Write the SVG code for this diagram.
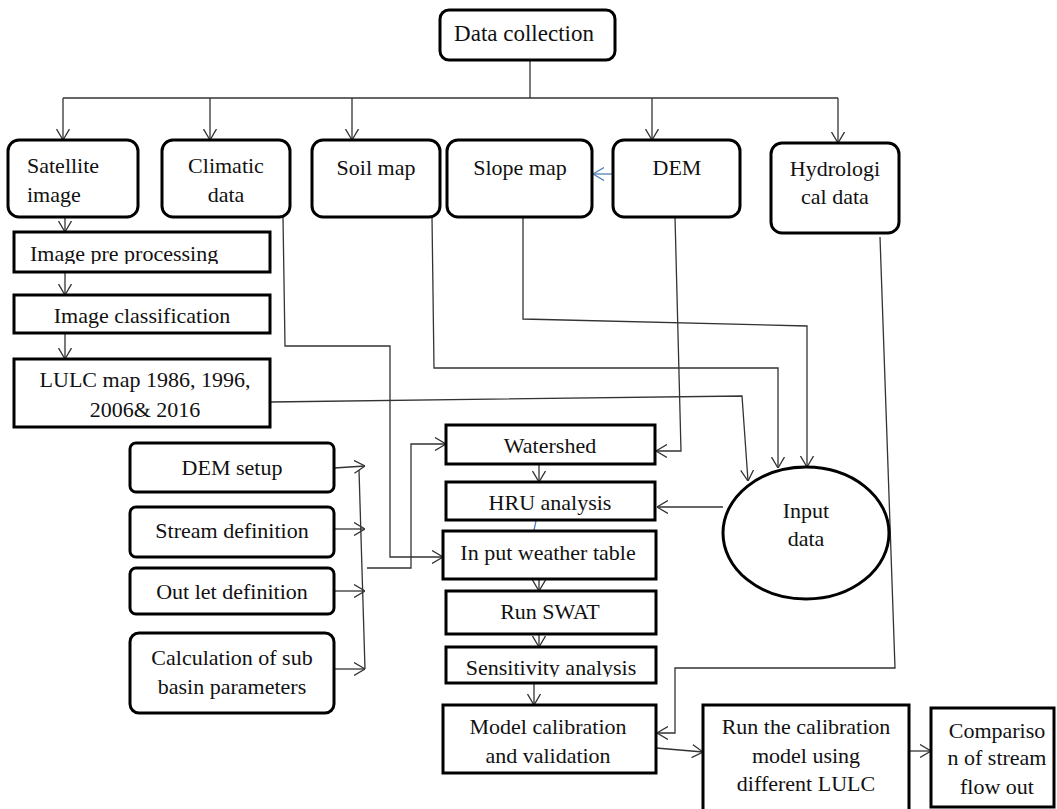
<svg xmlns="http://www.w3.org/2000/svg" width="1057" height="809" viewBox="0 0 1057 809">
<style>
.bx{fill:#fff;stroke:#000;stroke-width:3}
.t{font-family:'Liberation Serif','DejaVu Serif',serif;font-size:22px;fill:#111}
.m{text-anchor:middle}
.c{fill:none;stroke:#333;stroke-width:1.3}
.cb{fill:none;stroke:#4f81bd;stroke-width:1.3}
</style>
<defs>
<marker id="a" viewBox="0 0 11 14" refX="11" refY="7" markerWidth="11" markerHeight="14" markerUnits="userSpaceOnUse" orient="auto">
<path d="M0,0.5 L11,7 L0,13.5" fill="none" stroke="#333" stroke-width="1.3"/>
</marker>
<marker id="ab" viewBox="0 0 11 14" refX="11" refY="7" markerWidth="11" markerHeight="14" markerUnits="userSpaceOnUse" orient="auto">
<path d="M0,0.5 L11,7 L0,13.5" fill="none" stroke="#4f81bd" stroke-width="1.3"/>
</marker>
<clipPath id="clipPre"><rect x="14" y="232" width="256" height="32"/></clipPath>
<clipPath id="clipSens"><rect x="446" y="647" width="210" height="30"/></clipPath>
</defs>

<g id="connectors">
<path class="c" d="M530,60 V98"/>
<path class="c" d="M63,98 H838"/>
<path class="c" d="M63,98 V140" marker-end="url(#a)"/>
<path class="c" d="M210,98 V140" marker-end="url(#a)"/>
<path class="c" d="M352,98 V140" marker-end="url(#a)"/>
<path class="c" d="M652,98 V140" marker-end="url(#a)"/>
<path class="c" d="M838,98 V143" marker-end="url(#a)"/>
<path class="cb" d="M613,174 H593" marker-end="url(#ab)"/>
<path class="c" d="M65,217 V232" marker-end="url(#a)"/>
<path class="c" d="M65,272 V295" marker-end="url(#a)"/>
<path class="c" d="M65,333 V359" marker-end="url(#a)"/>
<path class="c" d="M283,217 L285,346 L390,346 L390,557 L443,557" marker-end="url(#a)"/>
<path class="c" d="M432,217 L434,368 L778,368 L778,468" marker-end="url(#a)"/>
<path class="c" d="M523,217 L523,319 L807,326 L807,467" marker-end="url(#a)"/>
<path class="c" d="M675,217 L681,451 L656,451" marker-end="url(#a)"/>
<path class="c" d="M270,402 L742,396 L748,481" marker-end="url(#a)"/>
<path class="c" d="M880,237 L895,668 L675,668 L675,733 L657,733" marker-end="url(#a)"/>
<path class="c" d="M723,507 H657" marker-end="url(#a)"/>
<path class="c" d="M334,468 L365,466" marker-end="url(#a)"/>
<path class="c" d="M334,529 H365" marker-end="url(#a)"/>
<path class="c" d="M334,591 H365" marker-end="url(#a)"/>
<path class="c" d="M334,669 H365" marker-end="url(#a)"/>
<path class="c" d="M359,470 L365,669"/>
<path class="c" d="M367,568 L411,568 L411,444 L446,444" marker-end="url(#a)"/>
<path class="c" d="M539,464 V482" marker-end="url(#a)"/>
<path class="cb" d="M536,521 L534,530"/>
<path class="c" d="M539,579 V591" marker-end="url(#a)"/>
<path class="c" d="M539,634 V647" marker-end="url(#a)"/>
<path class="c" d="M534,683 V705" marker-end="url(#a)"/>
<path class="c" d="M656,748 L703,752" marker-end="url(#a)"/>
<path class="c" d="M909,751 H931" marker-end="url(#a)"/>
</g>

<g id="data-collection"><rect class="bx" x="440" y="10" width="175" height="50" rx="9"/><text class="t m" x="524" y="41" style="font-size:23px">Data collection</text></g>
<g id="satellite-image"><rect class="bx" x="8" y="140" width="130" height="77" rx="11"/><text class="t" x="27" y="173">Satellite</text><text class="t" x="27" y="202">image</text></g>
<g id="climatic-data"><rect class="bx" x="162" y="140" width="128" height="77" rx="11"/><text class="t m" x="226" y="173">Climatic</text><text class="t m" x="226" y="202">data</text></g>
<g id="soil-map"><rect class="bx" x="312" y="140" width="128" height="77" rx="11"/><text class="t m" x="376" y="175">Soil map</text></g>
<g id="slope-map"><rect class="bx" x="447" y="140" width="145" height="77" rx="11"/><text class="t m" x="520" y="175">Slope map</text></g>
<g id="dem"><rect class="bx" x="613" y="140" width="127" height="77" rx="11"/><text class="t m" x="677" y="175">DEM</text></g>
<g id="hydrological-data"><rect class="bx" x="771" y="143" width="128" height="90" rx="11"/><text class="t m" x="835" y="176">Hydrologi</text><text class="t m" x="835" y="204">cal data</text></g>

<g id="image-pre-processing"><rect class="bx" x="14" y="232" width="256" height="40"/><text class="t" x="30" y="261" clip-path="url(#clipPre)">Image pre processing</text></g>
<g id="image-classification"><rect class="bx" x="14" y="295" width="256" height="38"/><text class="t m" x="142" y="323">Image classification</text></g>
<g id="lulc-map"><rect class="bx" x="14" y="359" width="256" height="68"/><text class="t m" x="145" y="387">LULC map 1986, 1996,</text><text class="t m" x="145" y="417">2006&amp; 2016</text></g>

<g id="dem-setup"><rect class="bx" x="130" y="443" width="204" height="49" rx="6"/><text class="t m" x="232" y="475">DEM setup</text></g>
<g id="stream-definition"><rect class="bx" x="130" y="507" width="204" height="50" rx="6"/><text class="t m" x="232" y="538">Stream definition</text></g>
<g id="outlet-definition"><rect class="bx" x="130" y="568" width="204" height="46" rx="6"/><text class="t m" x="232" y="599">Out let definition</text></g>
<g id="calculation-sub-basin"><rect class="bx" x="130" y="633" width="204" height="80" rx="9"/><text class="t m" x="232" y="665">Calculation of sub</text><text class="t m" x="232" y="694">basin parameters</text></g>

<g id="watershed"><rect class="bx" x="446" y="425" width="209" height="39"/><text class="t m" x="550" y="453">Watershed</text></g>
<g id="hru-analysis"><rect class="bx" x="446" y="482" width="209" height="38"/><text class="t m" x="550" y="510">HRU analysis</text></g>
<g id="input-weather-table"><rect class="bx" x="443" y="531" width="213" height="48"/><text class="t m" x="548" y="560">In put weather table</text></g>
<g id="run-swat"><rect class="bx" x="446" y="591" width="210" height="43"/><text class="t m" x="550" y="619">Run SWAT</text></g>
<g id="sensitivity-analysis"><rect class="bx" x="446" y="647" width="210" height="36"/><text class="t m" x="551" y="675" clip-path="url(#clipSens)">Sensitivity analysis</text></g>
<g id="model-calibration"><rect class="bx" x="443" y="705" width="213" height="68"/><text class="t m" x="548" y="734">Model calibration</text><text class="t m" x="548" y="763">and validation</text></g>

<g id="input-data"><ellipse cx="806" cy="533" rx="83" ry="66" fill="#fff" stroke="#000" stroke-width="3"/><text class="t m" x="806" y="518">Input</text><text class="t m" x="806" y="546">data</text></g>

<g id="run-calibration-model"><rect class="bx" x="703" y="705" width="206" height="110"/><text class="t m" x="806" y="734">Run the calibration</text><text class="t m" x="806" y="763">model using</text><text class="t m" x="806" y="791">different LULC</text></g>
<g id="comparison"><rect class="bx" x="931" y="708" width="123" height="99"/><text class="t m" x="997" y="738">Compariso</text><text class="t m" x="997" y="765">n of stream</text><text class="t m" x="997" y="794">flow out</text></g>
</svg>
